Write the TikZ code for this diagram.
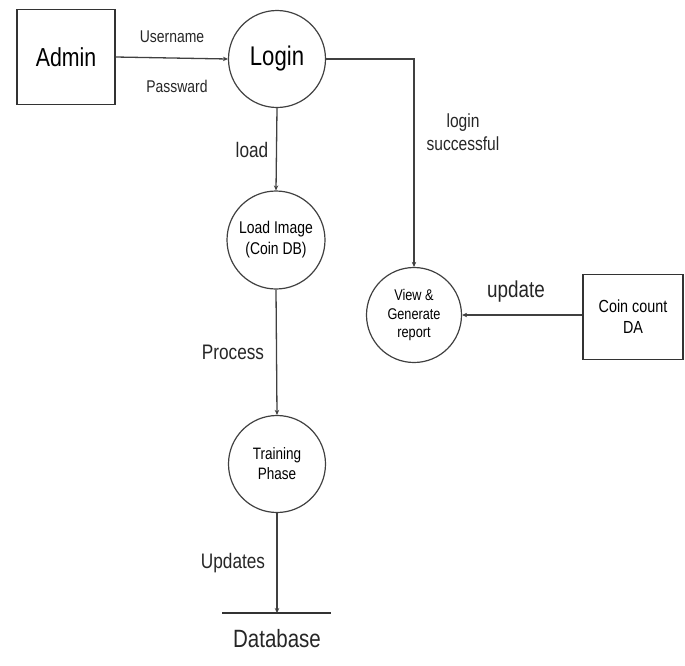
\documentclass[tikz,border=0pt]{standalone}
\usepackage{fontspec}
\setmainfont{Liberation Sans}[FakeStretch=0.82]
\usetikzlibrary{arrows.meta}
\begin{document}
\begin{tikzpicture}[x=1pt,y=-1pt,
  proc/.style={draw=black!75, line width=1.2pt, circle, inner sep=0pt, align=center},
  entity/.style={draw=black!80, line width=1.3pt, inner sep=0pt, align=center},
  flow/.style={draw=black!75, line width=1.3pt, -{Stealth[length=5pt,width=4.5pt]}},
  lbl/.style={text=black!85, font=\fontsize{21}{23}\selectfont, align=center}]
\useasboundingbox (0,0) rectangle (685,665);
% external entities
\node[entity, minimum width=98pt, minimum height=95pt, font=\fontsize{26}{28}\selectfont] (admin) at (66,57) {Admin};
\node[entity, minimum width=100pt, minimum height=85pt, font=\fontsize{17.5}{21}\selectfont] (coin) at (633,317) {Coin count\\DA};
% processes
\node[proc, minimum size=97pt, font=\fontsize{27}{29}\selectfont] (login) at (277,59) {Login};
\node[proc, minimum size=98pt, font=\fontsize{17}{21}\selectfont] (load) at (276,240) {Load Image\\(Coin DB)};
\node[proc, minimum size=95pt, font=\fontsize{15.5}{18.5}\selectfont] (view) at (414,315) {View \&\\Generate\\report};
\node[proc, minimum size=97pt, font=\fontsize{16.5}{20}\selectfont] (train) at (277,464) {Training\\Phase};
% data store
\coordinate (dbl) at (222,613);
\coordinate (dbr) at (331,613);
\coordinate (dbtop) at (277,613);
\draw[black!80, line width=1.4pt] (dbl) -- (dbr);
\node[font=\fontsize{25}{27}\selectfont, text=black!85] (db) at (277,639) {Database};
% flows
\draw[flow] (admin.east) -- (login.west);
\node[lbl, font=\fontsize{17}{19}\selectfont] (un) at (172,37) {Username};
\node[lbl, font=\fontsize{17}{19}\selectfont] (pw) at (177,86) {Passward};
\draw[flow] (login.east) -| (view.north);
\node[lbl, font=\fontsize{19}{23}\selectfont] (ls) at (463,132) {login\\successful};
\draw[flow] (login.south) -- (load.north);
\node[lbl] (ld) at (252,150) {load};
\draw[flow] (load.south) -- (train.north);
\node[lbl] (pr) at (233,352) {Process};
\draw[flow] (train.south) -- (dbtop);
\node[lbl] (up) at (233,563) {Updates};
\draw[flow] (coin.west |- view.east) -- (view.east);
\node[lbl, font=\fontsize{23}{25}\selectfont] (upd) at (516,292) {update};
\end{tikzpicture}
\end{document}
